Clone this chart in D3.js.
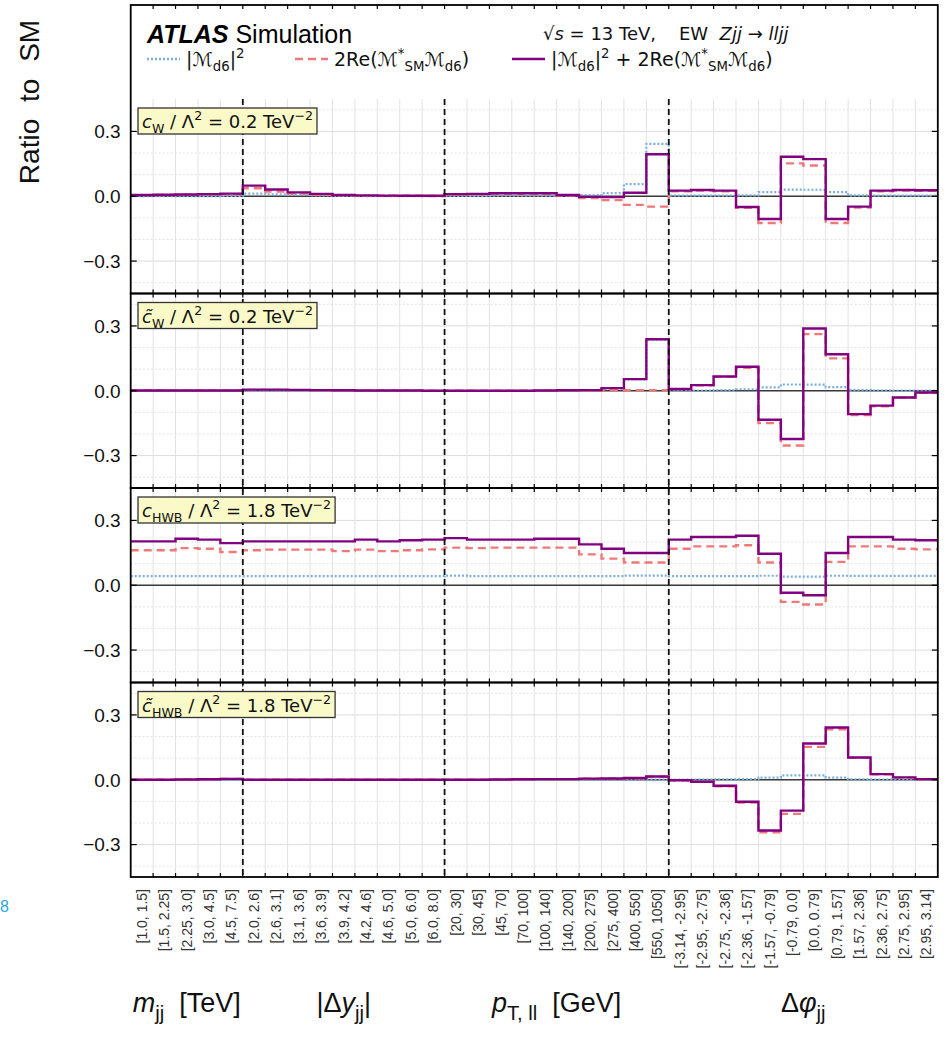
<!DOCTYPE html>
<html>
<head>
<meta charset="utf-8">
<script src="https://cdn.jsdelivr.net/npm/d3@7"></script>
<style>
  body { margin: 0; background: #fff; }
  text { font-family: "Liberation Sans", Arial, sans-serif; white-space: pre; }
  .math { font-family: "DejaVu Sans", sans-serif; }
</style>
</head>
<body>
<svg id="chart" width="947" height="1038"></svg>
<script>
// bin labels (x axis), 36 bins in 4 groups
const binLabels = [
  "[1.0, 1.5]", "[1.5, 2.25]", "[2.25, 3.0]", "[3.0, 4.5]", "[4.5, 7.5]",
  "[2.0, 2.6]", "[2.6, 3.1]", "[3.1, 3.6]", "[3.6, 3.9]", "[3.9, 4.2]", "[4.2, 4.6]", "[4.6, 5.0]", "[5.0, 6.0]", "[6.0, 8.0]",
  "[20, 30]", "[30, 45]", "[45, 70]", "[70, 100]", "[100, 140]", "[140, 200]", "[200, 275]", "[275, 400]", "[400, 550]", "[550, 1050]",
  "[-3.14, -2.95]", "[-2.95, -2.75]", "[-2.75, -2.36]", "[-2.36, -1.57]", "[-1.57, -0.79]", "[-0.79, 0.0]",
  "[0.0, 0.79]", "[0.79, 1.57]", "[1.57, 2.36]", "[2.36, 2.75]", "[2.75, 2.95]", "[2.95, 3.14]"
];
const groupStarts = [0, 5, 14, 24, 36];
const yTicks = [-0.3, 0.0, 0.3];

// cW / Lambda^2 = 0.2
const cwSq = [0.001,0.001,0.001,0.001,0.002, 0.012,0.009,0.006,0.004,0.002,0.001,0.001,0.000,0.001,
  0.002,0.002,0.003,0.003,0.003,0.003,0.005,0.014,0.056,0.242,
  0.003,0.003,0.003,0.004,0.019,0.031,0.030,0.019,0.004,0.003,0.003,0.003];
const cwInt = [0.005,0.006,0.007,0.009,0.010, 0.037,0.022,0.012,0.007,0.004,0.003,0.002,0.002,0.001,
  0.008,0.009,0.011,0.011,0.011,0.003,-0.008,-0.018,-0.040,-0.048,
  0.023,0.026,0.023,-0.054,-0.124,0.152,0.142,-0.124,-0.052,0.023,0.026,0.025];
const cwSum = [0.006,0.007,0.008,0.010,0.012, 0.049,0.031,0.018,0.011,0.006,0.004,0.003,0.002,0.002,
  0.010,0.011,0.014,0.014,0.014,0.006,-0.003,-0.004,0.016,0.194,
  0.026,0.029,0.026,-0.050,-0.105,0.183,0.172,-0.105,-0.048,0.026,0.029,0.028];

// cW tilde / Lambda^2 = 0.2
const cwtSq = [0.000,0.000,0.000,0.000,0.000, 0.000,0.000,0.000,0.000,0.000,0.000,0.000,0.000,0.000,
  0.000,0.000,0.000,0.000,0.001,0.001,0.002,0.010,0.052,0.236,
  0.001,0.001,0.003,0.007,0.016,0.029,0.028,0.017,0.004,0.002,0.001,0.001];
const cwtInt = [0.001,0.001,0.001,0.001,0.001, 0.004,0.004,0.003,0.002,0.002,0.001,0.001,0.001,0.000,
  0.000,0.000,0.000,0.000,0.000,0.001,0.001,0.002,0.002,0.002,
  0.007,0.025,0.064,0.106,-0.150,-0.253,0.262,0.150,-0.112,-0.072,-0.032,-0.009];
const cwtSum = [0.001,0.001,0.001,0.001,0.001, 0.005,0.005,0.004,0.003,0.002,0.001,0.001,0.001,0.000,
  0.000,0.000,0.000,0.000,0.001,0.002,0.003,0.012,0.054,0.238,
  0.008,0.026,0.066,0.111,-0.134,-0.223,0.288,0.169,-0.108,-0.069,-0.031,-0.008];

// cHWB / Lambda^2 = 1.8
const chwbSq = [0.042,0.042,0.042,0.042,0.042, 0.042,0.042,0.042,0.042,0.042,0.042,0.042,0.042,0.042,
  0.045,0.042,0.042,0.042,0.042,0.042,0.042,0.042,0.045,0.045,
  0.042,0.042,0.042,0.042,0.044,0.040,0.040,0.044,0.043,0.043,0.043,0.043];
const chwbInt = [0.162,0.162,0.172,0.169,0.154, 0.162,0.165,0.165,0.165,0.158,0.165,0.158,0.162,0.166,
  0.174,0.172,0.174,0.174,0.174,0.174,0.143,0.123,0.105,0.105,
  0.169,0.180,0.180,0.185,0.105,-0.077,-0.089,0.108,0.180,0.180,0.169,0.166];
const chwbSum = [0.203,0.203,0.215,0.211,0.195, 0.203,0.203,0.203,0.203,0.203,0.211,0.203,0.208,0.211,
  0.218,0.211,0.211,0.211,0.215,0.215,0.189,0.169,0.149,0.149,
  0.211,0.223,0.223,0.229,0.146,-0.035,-0.046,0.149,0.223,0.223,0.211,0.208];

// cHWB tilde / Lambda^2 = 1.8
const chwbtSq = [0.000,0.000,0.000,0.000,0.000, 0.000,0.000,0.000,0.000,0.000,0.000,0.000,0.000,0.000,
  0.000,0.000,0.000,0.000,0.000,0.000,0.000,0.000,0.001,0.001,
  0.001,0.001,0.002,0.003,0.010,0.020,0.020,0.010,0.002,0.001,0.001,0.001];
const chwbtInt = [0.000,0.000,0.001,0.002,0.004, 0.000,0.000,0.000,0.000,0.000,0.000,0.000,0.000,0.000,
  0.000,0.000,0.001,0.002,0.003,0.003,0.005,0.006,0.007,0.014,
  -0.003,-0.010,-0.030,-0.105,-0.243,-0.158,0.152,0.234,0.101,0.025,0.010,0.002];
const chwbtSum = [0.000,0.000,0.001,0.002,0.004, 0.000,0.000,0.000,0.000,0.000,0.000,0.000,0.000,0.000,
  0.000,0.000,0.001,0.002,0.003,0.003,0.005,0.006,0.008,0.015,
  -0.002,-0.009,-0.028,-0.102,-0.235,-0.143,0.168,0.242,0.103,0.026,0.011,0.003];

const panels = [
  { tilde: false, sub: "W", val: "0.2", sq: cwSq, inter: cwInt, sum: cwSum },
  { tilde: true, sub: "W", val: "0.2", sq: cwtSq, inter: cwtInt, sum: cwtSum },
  { tilde: false, sub: "HWB", val: "1.8", sq: chwbSq, inter: chwbInt, sum: chwbSum },
  { tilde: true, sub: "HWB", val: "1.8", sq: chwbtSq, inter: chwbtInt, sum: chwbtSum }
];

const colSq = "#7aaee2", colInt = "#f07878", colSum = "#800080";

const svg = d3.select("#chart");
const left = 130.7, right = 937.8, top0 = 99, ph = 194.5, frameTop = 5;
const x = d3.scaleLinear().domain([0, binLabels.length]).range([left, right]);
const bottom = top0 + panels.length * ph;

const plotLayer = svg.append("g");
const sepLayer = svg.append("g");
const labelLayer = svg.append("g");

// write a rich text with sub / superscripts as tspans
function rich(sel, parts, fs) {
  let cur = 0;
  parts.forEach(p => {
    let target = 0, size = fs;
    if (p.sub) { target = 0.28 * fs; size = (p.scale || 0.7) * fs; }
    if (p.sup) { target = -0.42 * fs; size = 0.7 * fs; }
    const ts = sel.append("tspan").text(p.t).attr("font-size", size)
      .attr("dy", target - cur);
    if (p.it) ts.attr("font-style", "italic");
    cur = target;
  });
}

const step = d3.line().curve(d3.curveStepAfter);

panels.forEach((p, i) => {
  const pt = top0 + i * ph;
  const y = d3.scaleLinear().domain([-0.45, 0.45]).range([pt + ph, pt]);
  const g = plotLayer.append("g");

  // grid
  d3.range(-0.4, 0.41, 0.1).forEach(v => {
    const major = Math.abs(Math.round(v * 10)) % 3 === 0;
    g.append("line").attr("x1", left).attr("x2", right)
      .attr("y1", y(v)).attr("y2", y(v))
      .attr("stroke", major ? "#dcdcdc" : "#e2e2e2").attr("stroke-width", 1)
      .attr("stroke-dasharray", major ? null : "2,2");
  });
  d3.range(1, binLabels.length).forEach(k => {
    g.append("line").attr("x1", x(k)).attr("x2", x(k))
      .attr("y1", pt).attr("y2", pt + ph)
      .attr("stroke", "#e2e2e2").attr("stroke-width", 1);
  });

  // zero line
  g.append("line").attr("x1", left).attr("x2", right)
    .attr("y1", y(0)).attr("y2", y(0)).attr("stroke", "#3a3a3a").attr("stroke-width", 1.6);

  // step curves
  const pts = vals => vals.map((v, k) => [x(k), y(v)]).concat([[x(vals.length), y(vals[vals.length - 1])]]);
  g.append("path").attr("d", step(pts(p.sq))).attr("fill", "none")
    .attr("stroke", colSq).attr("stroke-width", 2.2).attr("stroke-dasharray", "2,2");
  g.append("path").attr("d", step(pts(p.inter))).attr("fill", "none")
    .attr("stroke", colInt).attr("stroke-width", 2.4).attr("stroke-dasharray", "8,5");
  g.append("path").attr("d", step(pts(p.sum))).attr("fill", "none")
    .attr("stroke", colSum).attr("stroke-width", 2.4);

  // frame
  const ft = i === 0 ? frameTop : pt;
  g.append("rect").attr("x", left).attr("y", ft).attr("width", right - left)
    .attr("height", pt + ph - ft).attr("fill", "none").attr("stroke", "#000").attr("stroke-width", 1.8);

  // x ticks (inward, top and bottom)
  d3.range(1, binLabels.length).forEach(k => {
    g.append("line").attr("x1", x(k)).attr("x2", x(k)).attr("y1", pt + ph).attr("y2", pt + ph - 4)
      .attr("stroke", "#000").attr("stroke-width", 1.2);
    g.append("line").attr("x1", x(k)).attr("x2", x(k)).attr("y1", ft).attr("y2", ft + 4)
      .attr("stroke", "#000").attr("stroke-width", 1.2);
  });

  // y axis ticks + labels
  yTicks.forEach(v => {
    g.append("line").attr("x1", left).attr("x2", left + 6).attr("y1", y(v)).attr("y2", y(v))
      .attr("stroke", "#000").attr("stroke-width", 1.2);
    g.append("line").attr("x1", right).attr("x2", right - 6).attr("y1", y(v)).attr("y2", y(v))
      .attr("stroke", "#000").attr("stroke-width", 1.2);
    g.append("text").attr("x", left - 10).attr("y", y(v)).attr("dy", "0.36em")
      .attr("text-anchor", "end").attr("font-size", 19).attr("fill", "#111")
      .text(v === 0 ? "0.0" : (v < 0 ? "\u2212" : "") + Math.abs(v).toFixed(1));
  });

  // coefficient label box (drawn above the separators)
  const lg = labelLayer.append("g");
  const lab = lg.append("text").attr("class", "math").attr("x", 142).attr("y", pt + 29).attr("fill", "#111");
  rich(lab, [
    { t: p.tilde ? "c\u0303" : "c", it: true },
    { t: p.sub, sub: true },
    { t: " / \u039B" },
    { t: "2", sup: true },
    { t: " = " + p.val + " TeV" },
    { t: "\u22122", sup: true }
  ], 18);
  const bb = lab.node().getBBox();
  lg.insert("rect", "text").attr("x", 138).attr("y", pt + 9).attr("width", bb.width + 8).attr("height", 26)
    .attr("fill", "#fafac8").attr("stroke", "#333").attr("stroke-width", 1.3);
});

// separators between groups
groupStarts.slice(1, -1).forEach(k => {
  sepLayer.append("line").attr("x1", x(k)).attr("x2", x(k)).attr("y1", top0).attr("y2", bottom)
    .attr("stroke", "#111").attr("stroke-width", 1.8).attr("stroke-dasharray", "6,4");
});

// x tick labels
binLabels.forEach((l, k) => {
  svg.append("text").attr("transform", `translate(${x(k + 0.5)},889) rotate(-90)`)
    .attr("text-anchor", "end").attr("dy", "0.35em").attr("font-size", 14).attr("fill", "#333")
    .text(l);
});

// group titles
const groupTitles = [
  [{ t: "m", it: true }, { t: "jj", sub: true, scale: 0.75 }, { t: "  [TeV]" }],
  [{ t: "|\u0394" }, { t: "y", it: true }, { t: "jj", sub: true, scale: 0.75 }, { t: "|" }],
  [{ t: "p", it: true }, { t: "T, ll", sub: true, scale: 0.75 }, { t: "  [GeV]" }],
  [{ t: "\u0394" }, { t: "\u03C6", it: true }, { t: "jj", sub: true, scale: 0.75 }]
];
groupTitles.forEach((parts, j) => {
  const cx = x((groupStarts[j] + groupStarts[j + 1]) / 2);
  const t = svg.append("text").attr("x", cx).attr("y", 1012).attr("text-anchor", "middle")
    .attr("font-size", 27).attr("fill", "#111");
  rich(t, parts, 27);
});

// y axis title
svg.append("text").attr("transform", "translate(39,102) rotate(-90)").attr("text-anchor", "middle")
  .attr("font-size", 28).attr("word-spacing", 9).attr("fill", "#111").text("Ratio to SM");

// header
const hd = svg.append("text").attr("x", 147).attr("y", 43).attr("font-size", 25).attr("fill", "#000");
hd.append("tspan").attr("font-weight", "bold").attr("font-style", "italic").text("ATLAS");
hd.append("tspan").text(" Simulation");

const en = svg.append("text").attr("class", "math").attr("x", 543).attr("y", 40).attr("font-size", 18)
  .attr("fill", "#111");
rich(en, [
  { t: "\u221A" }, { t: "s", it: true }, { t: " = 13 TeV,    EW  " },
  { t: "Zjj", it: true }, { t: " \u2192 " }, { t: "lljj", it: true }
], 18);

// legend
const legend = [
  { x: 147, col: colSq, dash: "2,2", parts: [{ t: "|\u2133" }, { t: "d6", sub: true }, { t: "|" }, { t: "2", sup: true }] },
  { x: 295, col: colInt, dash: "8,5", parts: [{ t: "2Re(\u2133" }, { t: "*", sup: true }, { t: "SM", sub: true }, { t: "\u2133" }, { t: "d6", sub: true }, { t: ")" }] },
  { x: 512, col: colSum, dash: null, parts: [{ t: "|\u2133" }, { t: "d6", sub: true }, { t: "|" }, { t: "2", sup: true }, { t: " + 2Re(\u2133" }, { t: "*", sup: true }, { t: "SM", sub: true }, { t: "\u2133" }, { t: "d6", sub: true }, { t: ")" }] }
];
legend.forEach(l => {
  svg.append("line").attr("x1", l.x).attr("x2", l.x + 33).attr("y1", 59).attr("y2", 59)
    .attr("stroke", l.col).attr("stroke-width", 2.4).attr("stroke-dasharray", l.dash);
  const t = svg.append("text").attr("class", "math").attr("x", l.x + 39).attr("y", 66)
    .attr("font-size", 19).attr("fill", "#111");
  rich(t, l.parts, 19);
});

// stray mark at left edge of original figure
svg.append("text").attr("x", 0).attr("y", 912).attr("font-size", 16).attr("fill", "#2aa6df").text("8");
</script>
</body>
</html>
